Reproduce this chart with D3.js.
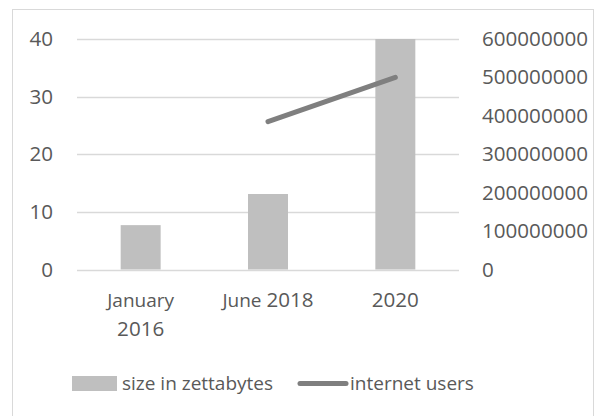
<!DOCTYPE html>
<html><head><meta charset="utf-8">
<script src="https://cdn.jsdelivr.net/npm/d3@7"></script>
<style>
html,body{margin:0;padding:0;background:#fff;}
svg text{font-family:"Open Sans", sans-serif;fill:#595959;}
</style></head>
<body>
<svg id="c" width="595" height="416"></svg>
<script>
const categories = [["January","2016"],["June 2018"],["2020"]];
const sizeZettabytes = [7.7, 13.1, 40];
const internetUsers = [null, 385000000, 500000000];
const leftTicks = [0,10,20,30,40];
const rightTicks = [0,100000000,200000000,300000000,400000000,500000000,600000000];
const legendLabels = ["size in zettabytes","internet users"];

const FS_TXT = 19, FS_NUM = 20.6;
// write text splitting digit runs (wider in reference font) from letters
function rich(sel, str){
  const parts = String(str).match(/\d+|[^\d]+/g) || [];
  parts.forEach(p=>{
    sel.append("tspan").attr("font-size", /\d/.test(p)?FS_NUM:FS_TXT).text(p);
  });
}

const svg = d3.select("#c");
svg.append("rect").attr("x",12.5).attr("y",9.5).attr("width",581).attr("height",420)
  .attr("fill","none").attr("stroke","#d9d9d9").attr("stroke-width",1);

const plot = {left:77, right:459, top:39, bottom:269.5};
const x = d3.scaleBand().domain(d3.range(categories.length)).range([plot.left, plot.right])
  .paddingInner(0.686).paddingOuter(0.343);
const yL = d3.scaleLinear().domain([0,40]).range([plot.bottom, plot.top]);
const yR = d3.scaleLinear().domain([0,600000000]).range([plot.bottom, plot.top]);

// gridlines
svg.append("g").selectAll("line").data(leftTicks).join("line")
  .attr("x1",plot.left).attr("x2",plot.right)
  .attr("y1",d=>Math.round(yL(d))+0.5).attr("y2",d=>Math.round(yL(d))+0.5)
  .attr("stroke","#d9d9d9").attr("stroke-width",1.3);

// left axis labels
svg.append("g").selectAll("text").data(leftTicks).join("text")
  .attr("x",53).attr("y",d=>yL(d)+7).attr("text-anchor","end")
  .attr("font-size",FS_NUM).text(d=>d);

// right axis labels
svg.append("g").selectAll("text").data(rightTicks).join("text")
  .attr("x",482).attr("y",d=>yR(d)+7).attr("text-anchor","start")
  .attr("font-size",FS_NUM).text(d=>d);

// bars
svg.append("g").selectAll("rect").data(sizeZettabytes).join("rect")
  .attr("x",(d,i)=>x(i)).attr("width",x.bandwidth())
  .attr("y",d=>yL(d)).attr("height",d=>yL(0)-yL(d))
  .attr("fill","#bfbfbf");

// line
const line = d3.line().defined(d=>d.v!=null)
  .x(d=>x(d.i)+x.bandwidth()/2).y(d=>yR(d.v));
svg.append("path").datum(internetUsers.map((v,i)=>({v,i})))
  .attr("d",line).attr("fill","none").attr("stroke","#7f7f7f")
  .attr("stroke-width",5).attr("stroke-linecap","round");

// x labels
categories.forEach((lines,i)=>{
  lines.forEach((s,j)=>{
    const t = svg.append("text").attr("x",x(i)+x.bandwidth()/2).attr("y",307+j*29)
      .attr("text-anchor","middle");
    rich(t,s);
  });
});

// legend
svg.append("rect").attr("x",72).attr("y",376).attr("width",45).attr("height",15).attr("fill","#bfbfbf");
rich(svg.append("text").attr("x",122).attr("y",390), legendLabels[0]);
svg.append("line").attr("x1",300).attr("x2",346).attr("y1",383.5).attr("y2",383.5)
  .attr("stroke","#7f7f7f").attr("stroke-width",5).attr("stroke-linecap","round");
rich(svg.append("text").attr("x",350).attr("y",390), legendLabels[1]);
</script>
</body></html>
